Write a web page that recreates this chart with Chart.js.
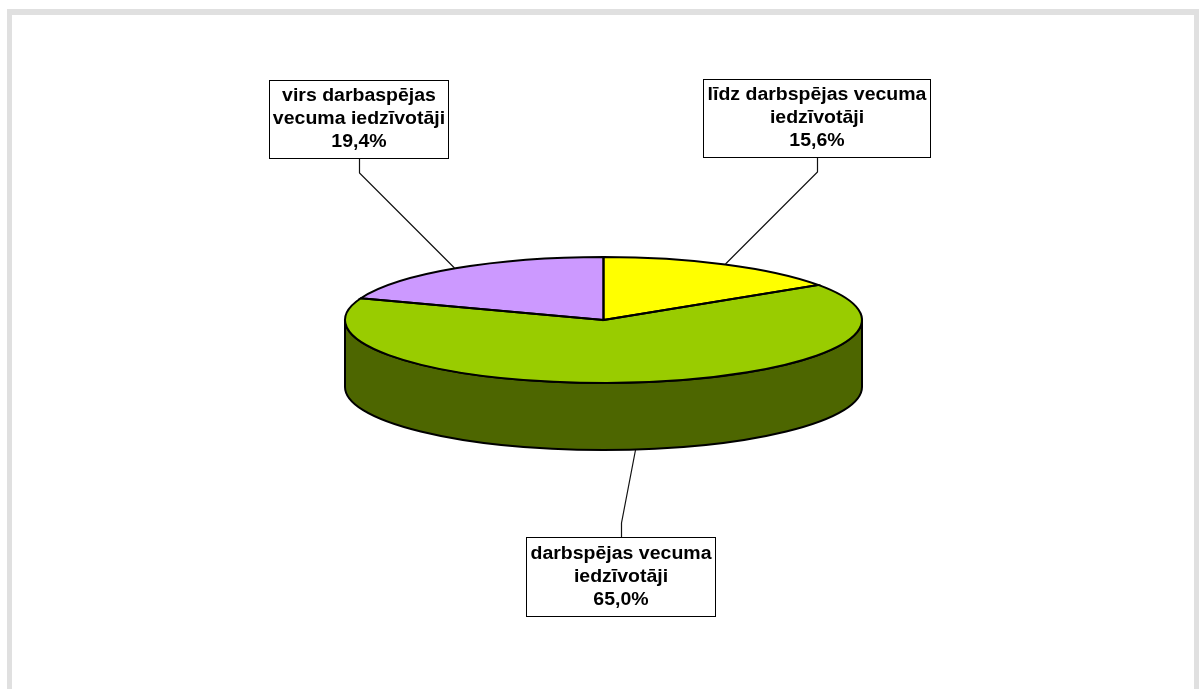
<!DOCTYPE html>
<html lang="lv">
<head>
<meta charset="UTF-8">
<title>Iedzīvotāji pa vecuma grupām</title>
<script src="https://cdn.jsdelivr.net/npm/chart.js"></script>
<style>
  * { box-sizing: border-box; margin: 0; padding: 0; }
  html, body { background: #fff; overflow: hidden; }
  #frame {
    position: absolute; left: 7px; top: 9px; width: 1192px; height: 680px;
    border: 5px solid #e0e0e0; border-bottom: 0; border-top-width: 6px;
  }
  #wrap { position: absolute; left: 0; top: 0; width: 1199px; height: 689px; }
</style>
</head>
<body>
<div id="frame"></div>
<div id="wrap"><canvas id="pie" width="1199" height="689"></canvas></div>
<script>
// Values, clockwise from 12 o'clock
const categories = [
  ['līdz darbspējas vecuma', 'iedzīvotāji'],
  ['darbspējas vecuma', 'iedzīvotāji'],
  ['virs darbaspējas', 'vecuma iedzīvotāji'],
];
const shares = [15.6, 65.0, 19.4];

const sliceColors = ['#ffff00', '#99cc00', '#cc99ff'];
const wallColors = ['#666600', '#4d6600', '#665080'];

// Callout boxes: [left, top, right, bottom], and the leader line from box to pie
const callouts = [
  { box: [703.5, 79.5, 930.5, 157.5], leader: [[817, 157], [817, 172], [725, 264]] },
  { box: [526.5, 537.5, 715.5, 616.5], leader: [[621, 537], [621, 523], [635, 450]] },
  { box: [269.5, 80.5, 448.5, 158.5], leader: [[359, 158], [359, 173], [454, 268]] },
];

const RADIUS = 258.5;
const SQUASH = 63 / 258.5;   // flatten the circle to the ellipse of the reference
const CENTER_Y = 320;
const DEPTH = 67;
const FONT = 'bold 18px "Liberation Sans", Arial, sans-serif';
const TEXT_STRETCH = 1.083;  // the reference text is a bit wider than the font
const LINE_HEIGHT = 23;

// Draw the rim of the cylinder under the pie, then flatten the pie itself
const tiltPlugin = {
  id: 'tilt',
  beforeDatasetsDraw(chart) {
    const ctx = chart.ctx;
    const arcs = chart.getDatasetMeta(0).data;
    const ry = RADIUS * SQUASH;
    ctx.save();
    ctx.lineWidth = 2;
    ctx.strokeStyle = '#000';
    arcs.forEach((arc, i) => {
      // only the front half of the cylinder can be seen
      const twoPi = Math.PI * 2;
      let from = arc.startAngle, to = arc.endAngle;
      [0, twoPi, -twoPi].forEach(shift => {
        const a = Math.max(from, shift);
        const b = Math.min(to, shift + Math.PI);
        if (b <= a) return;
        ctx.beginPath();
        ctx.ellipse(arc.x, CENTER_Y, RADIUS, ry, 0, a, b);
        ctx.ellipse(arc.x, CENTER_Y + DEPTH, RADIUS, ry, 0, b, a, true);
        ctx.closePath();
        ctx.fillStyle = wallColors[i];
        ctx.fill();
        ctx.stroke();
      });
    });
    ctx.restore();

    ctx.save();
    const cy = arcs[0].y;
    ctx.translate(0, CENTER_Y);
    ctx.scale(1, SQUASH);
    ctx.translate(0, -cy);
  },
  afterDatasetsDraw(chart) {
    const ctx = chart.ctx;
    ctx.restore();

    // outlines are stroked unscaled so the line keeps an even width
    const arcs = chart.getDatasetMeta(0).data;
    ctx.save();
    ctx.lineWidth = 2;
    ctx.strokeStyle = '#000';
    arcs.forEach(arc => {
      ctx.save();
      ctx.translate(arc.x, CENTER_Y);
      ctx.scale(1, SQUASH);
      ctx.beginPath();
      ctx.moveTo(0, 0);
      ctx.arc(0, 0, RADIUS, arc.startAngle, arc.endAngle);
      ctx.closePath();
      ctx.restore();
      ctx.stroke();
    });
    ctx.restore();
  },
  afterDraw(chart) {
    const ctx = chart.ctx;
    ctx.save();
    callouts.forEach((c, i) => {
      ctx.strokeStyle = '#111';
      ctx.lineWidth = 1.2;
      ctx.beginPath();
      c.leader.forEach((p, j) => {
        if (j === 0) ctx.moveTo(p[0] + 0.5, p[1]);
        else ctx.lineTo(p[0] + 0.5, p[1]);
      });
      ctx.stroke();

      const [l, t, r, b] = c.box;
      ctx.fillStyle = '#fff';
      ctx.fillRect(l, t, r - l, b - t);
      ctx.strokeStyle = '#000';
      ctx.lineWidth = 1;
      ctx.strokeRect(l, t, r - l, b - t);

      const lines = categories[i].concat(shares[i].toFixed(1).replace('.', ',') + '%');
      ctx.fillStyle = '#000';
      ctx.font = FONT;
      ctx.textAlign = 'center';
      ctx.textBaseline = 'middle';
      const x = (l + r) / 2;
      const y0 = (t + b) / 2 - LINE_HEIGHT;
      lines.forEach((text, k) => {
        ctx.save();
        ctx.translate(x, y0 + k * LINE_HEIGHT);
        ctx.scale(TEXT_STRETCH, 1);
        ctx.fillText(text, 0, 0);
        ctx.restore();
      });
    });
    ctx.restore();
  }
};

new Chart(document.getElementById('pie').getContext('2d'), {
  type: 'pie',
  data: {
    labels: categories.map(c => c.join(' ')),
    datasets: [{
      data: shares,
      backgroundColor: sliceColors,
      borderWidth: 0,
      radius: RADIUS,
      clip: false,
    }]
  },
  options: {
    responsive: false,
    animation: false,
    layout: { padding: { left: 8 } },
    plugins: { legend: { display: false }, tooltip: { enabled: false } }
  },
  plugins: [tiltPlugin]
});
</script>
</body>
</html>
